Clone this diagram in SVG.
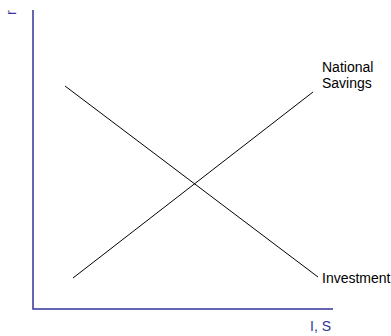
<svg xmlns="http://www.w3.org/2000/svg" width="391" height="336" viewBox="0 0 391 336">
<style>
.axis{stroke:#333399;stroke-width:1.5;fill:none}
.curve{stroke:#000;stroke-width:1;fill:none}
.lbl{font-family:"Liberation Sans",Arial,sans-serif;font-size:14px;fill:#000}
.albl{font-family:"Liberation Sans",Arial,sans-serif;font-size:14px;fill:#333399}
</style>
<rect width="391" height="336" fill="#fff"/>
<g id="axes">
<polyline class="axis" points="33,10 33,309 333,309"/>
<text class="albl" transform="translate(16,15) rotate(-90)">r</text>
<text class="albl" x="310" y="331">I, S</text>
</g>
<g id="connectors">
<line id="investment-curve" class="curve" x1="65" y1="86" x2="318" y2="277"/>
<line id="savings-curve" class="curve" x1="73" y1="278" x2="313" y2="92"/>
</g>
<g id="savings-label">
<text class="lbl" x="322" y="72">National</text>
<text class="lbl" x="322" y="88">Savings</text>
</g>
<g id="investment-label">
<text class="lbl" x="322" y="283">Investment</text>
</g>
</svg>
